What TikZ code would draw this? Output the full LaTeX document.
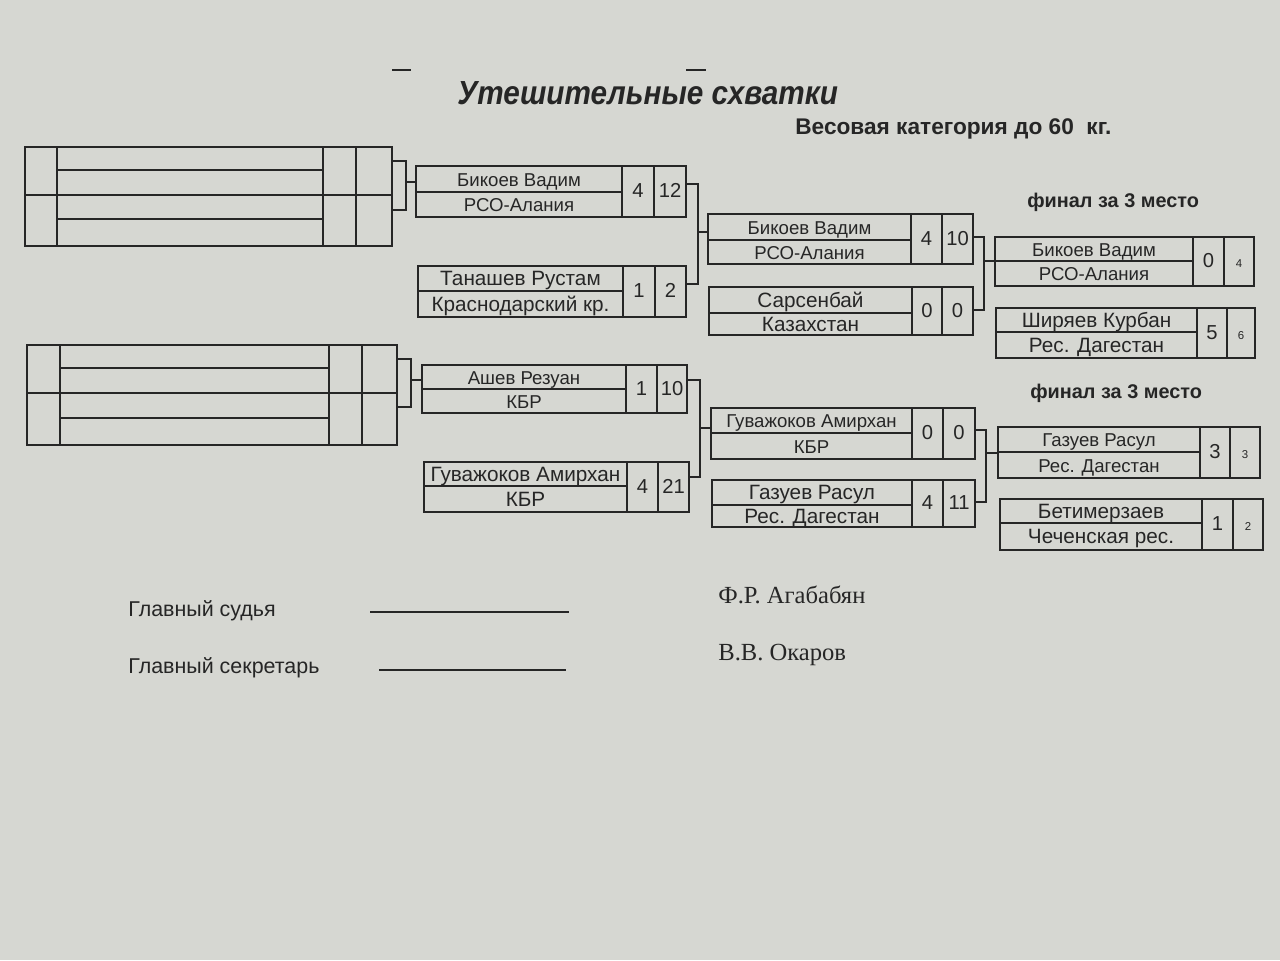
\documentclass[tikz,border=0pt]{standalone}
\usepackage{fontspec}
\setmainfont{Liberation Sans}
\newfontfamily\timesf{Liberation Serif}
\usetikzlibrary{fit}
\definecolor{paper}{RGB}{214,215,210}
\definecolor{ink}{RGB}{38,38,38}
\newcommand\smallname{\fontsize{10.6}{12}\selectfont}
\newcommand\largename{\fontsize{11.8}{13}\selectfont}
\newcommand\scorefont{\fontsize{11.5}{13}\selectfont}
\newcommand\tinyscore{\fontsize{6.5}{8}\selectfont}
\tikzset{
  cell/.style={draw=ink, line width=0.9pt, inner sep=0pt},
  conn/.style={draw=ink, line width=0.9pt},
  txt/.style={inner sep=0pt, text=ink, text height=0.72em, text depth=0pt},
  label/.style={anchor=base west, inner sep=0pt, text=ink},
}
% #1 name, #2 left, #3 top, #4 right, #5 bottom, #6 x name col end, #7 x score1 end, #8 y mid
\newcommand\matchbox[8]{%
  \node[cell, fit={(#2,#3) (#6,#8)}] (#1n) {};
  \node[cell, fit={(#2,#8) (#6,#5)}] (#1c) {};
  \node[cell, fit={(#6,#3) (#7,#5)}] (#1a) {};
  \node[cell, fit={(#7,#3) (#4,#5)}] (#1b) {};
}
% #1 name, #2 font, #3 person, #4 club, #5 s1, #6 s2, #7 s2 font
\newcommand\matchtext[7]{%
  \node[txt, font=#2] (#1nt) at ([yshift=-0.6pt]#1n.center) {#3};
  \node[txt, font=#2] (#1ct) at ([yshift=-0.6pt]#1c.center) {#4};
  \node[txt, font=\scorefont] (#1at) at (#1a.center) {#5};
  \node[txt, font=#7] (#1bt) at (#1b.center) {#6};
}
\begin{document}
\begin{tikzpicture}[x=0.02cm,y=-0.02cm]
\fill[paper] (0,0) rectangle (1280,960);
\useasboundingbox (0,0) rectangle (1280,960);

% header
\draw[ink, line width=1.1pt] (392,70) -- (411,70);
\draw[ink, line width=1.1pt] (686,70) -- (706,70);
\node[label, font=\fontsize{19}{22}\selectfont\bfseries\itshape] (title) at (457,104) {\scalebox{0.89}[1]{Утешительные схватки}};
\node[label, font=\fontsize{12.9}{14}\selectfont\bfseries] (cat) at (795,134) {Весовая категория до 60\ \ кг.};

% left block A
\node[cell, fit={(25,147) (57,195)}] (A1) {};
\node[cell, fit={(25,195) (57,246)}] (A2) {};
\node[cell, fit={(57,147) (323,170)}] (A3) {};
\node[cell, fit={(57,170) (323,195)}] (A4) {};
\node[cell, fit={(57,195) (323,219)}] (A5) {};
\node[cell, fit={(57,219) (323,246)}] (A6) {};
\node[cell, fit={(323,147) (356,195)}] (A7) {};
\node[cell, fit={(323,195) (356,246)}] (A8) {};
\node[cell, fit={(356,147) (392,195)}] (A9) {};
\node[cell, fit={(356,195) (392,246)}] (A10) {};

% left block B
\node[cell, fit={(27,345) (60,393)}] (B1) {};
\node[cell, fit={(27,393) (60,445)}] (B2) {};
\node[cell, fit={(60,345) (329,368)}] (B3) {};
\node[cell, fit={(60,368) (329,393)}] (B4) {};
\node[cell, fit={(60,393) (329,418)}] (B5) {};
\node[cell, fit={(60,418) (329,445)}] (B6) {};
\node[cell, fit={(329,345) (362,393)}] (B7) {};
\node[cell, fit={(329,393) (362,445)}] (B8) {};
\node[cell, fit={(362,345) (397,393)}] (B9) {};
\node[cell, fit={(362,393) (397,445)}] (B10) {};

% round 1
\matchbox{ra}{416}{166}{686}{217}{622}{654}{192}
\matchtext{ra}{\smallname}{Бикоев Вадим}{РСО-Алания}{4}{12}{\scorefont}
\matchbox{rb}{418}{266}{686}{317}{623}{655}{291}
\matchtext{rb}{\largename}{Танашев Рустам}{Краснодарский кр.}{1}{2}{\scorefont}
\matchbox{rc}{422}{365}{687}{413}{626}{657}{389}
\matchtext{rc}{\smallname}{Ашев Резуан}{КБР}{1}{10}{\scorefont}
\matchbox{rd}{424}{462}{689}{512}{627}{658}{486}
\matchtext{rd}{\largename}{Гуважоков Амирхан}{КБР}{4}{21}{\scorefont}

% round 2
\matchbox{sa}{708}{214}{973}{264}{911}{942}{240}
\matchtext{sa}{\smallname}{Бикоев Вадим}{РСО-Алания}{4}{10}{\scorefont}
\matchbox{sb}{709}{287}{973}{335}{912}{942}{313}
\matchtext{sb}{\largename}{Сарсенбай}{Казахстан}{0}{0}{\scorefont}
\matchbox{sc}{711}{408}{975}{459}{912}{943}{433}
\matchtext{sc}{\smallname}{Гуважоков Амирхан}{КБР}{0}{0}{\scorefont}
\matchbox{sd}{712}{480}{975}{527}{912}{943}{505}
\matchtext{sd}{\largename}{Газуев Расул}{Рес. Дагестан}{4}{11}{\scorefont}

% finals
\node[label, font=\fontsize{11.3}{13}\selectfont\bfseries] (fin1) at (1027,207) {финал за 3 место};
\node[label, font=\fontsize{11.3}{13}\selectfont\bfseries] (fin2) at (1030,398) {финал за 3 место};
\matchbox{ta}{995}{237}{1254}{286}{1193}{1224}{261}
\matchtext{ta}{\smallname}{Бикоев Вадим}{РСО-Алания}{0}{4}{\tinyscore}
\matchbox{tb}{996}{308}{1255}{358}{1197}{1227}{332}
\matchtext{tb}{\largename}{Ширяев Курбан}{Рес. Дагестан}{5}{6}{\tinyscore}
\matchbox{tc}{998}{427}{1260}{478}{1200}{1230}{452}
\matchtext{tc}{\smallname}{Газуев Расул}{Рес. Дагестан}{3}{3}{\tinyscore}
\matchbox{td}{1000}{499}{1263}{550}{1202}{1233}{523}
\matchtext{td}{\largename}{Бетимерзаев}{Чеченская рес.}{1}{2}{\tinyscore}

% brackets from left blocks
\coordinate (jA) at (406,182);
\draw[conn] (A9.east |- 0,161) -- (jA |- 0,161) -- (jA |- 0,210) -- (A10.east |- 0,210);
\draw[conn] (jA) -- (ran.west |- jA);
\coordinate (jB) at (411,380);
\draw[conn] (B9.east |- 0,359) -- (jB |- 0,359) -- (jB |- 0,407) -- (B10.east |- 0,407);
\draw[conn] (jB) -- (rcn.west |- jB);

% round1 -> round2
\coordinate (j1) at (698,232);
\draw[conn] (rab.east |- 0,184) -- (j1 |- 0,184) -- (j1 |- 0,284) -- (rbb.east |- 0,284);
\draw[conn] (j1) -- (san.west |- j1);
\coordinate (j2) at (700,428);
\draw[conn] (rcb.east |- 0,380) -- (j2 |- 0,380) -- (j2 |- 0,477) -- (rdb.east |- 0,477);
\draw[conn] (j2) -- (scn.west |- j2);

% round2 -> finals
\coordinate (j3) at (984,261);
\draw[conn] (sab.east |- 0,237) -- (j3 |- 0,237) -- (j3 |- 0,310) -- (sbb.east |- 0,310);
\draw[conn] (j3) -- (tan.west |- j3);
\coordinate (j4) at (986,453);
\draw[conn] (scb.east |- 0,430) -- (j4 |- 0,430) -- (j4 |- 0,502) -- (sdb.east |- 0,502);
\draw[conn] (j4) -- (tcn.west |- j4);

% footer
\node[label, font=\fontsize{12.2}{14}\selectfont] (judge) at (128,616) {Главный судья};
\node[label, font=\fontsize{12.2}{14}\selectfont] (secr) at (128,673) {Главный секретарь};
\coordinate (l1a) at (370,612);
\coordinate (l1b) at (569,612);
\draw[conn] (l1a) -- (l1b);
\coordinate (l2a) at (379,670);
\coordinate (l2b) at (566,670);
\draw[conn] (l2a) -- (l2b);
\node[label, font=\timesf\fontsize{14}{16}\selectfont] (sig1) at (718,603) {Ф.Р. Агабабян};
\node[label, font=\timesf\fontsize{14}{16}\selectfont] (sig2) at (718,660) {В.В. Окаров};
\end{tikzpicture}
\end{document}
